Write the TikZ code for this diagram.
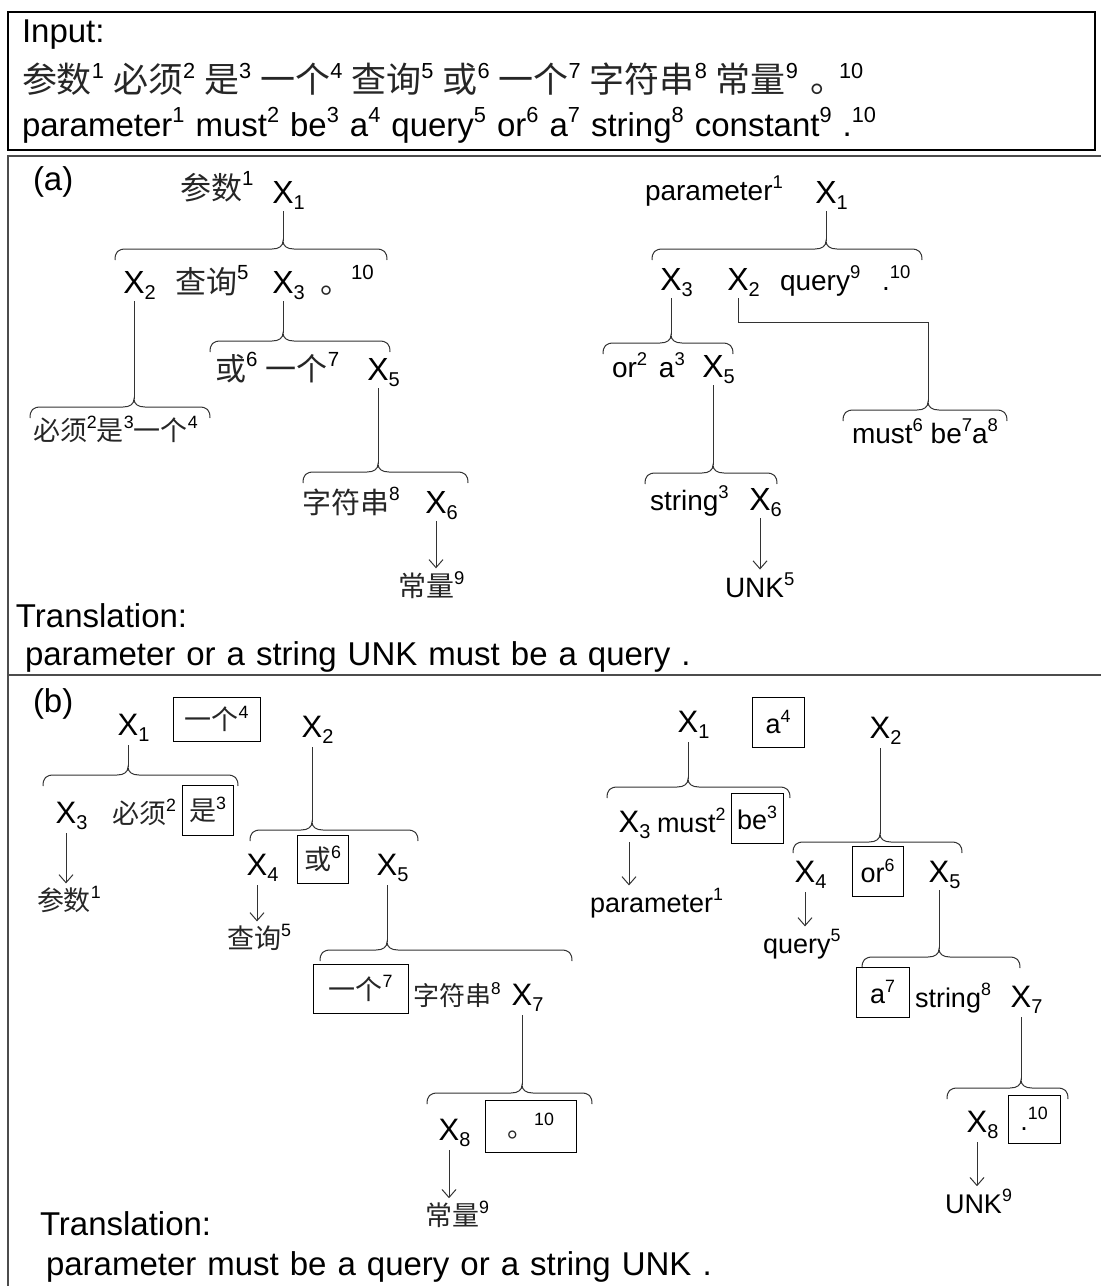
\documentclass[tikz,border=0pt]{standalone}
\usepackage{fontspec}
\setmainfont{Liberation Sans}
\newfontfamily\cjk{Noto Sans CJK SC}
\usepackage{graphicx}
\usetikzlibrary{arrows.meta}
\newcommand\supn[1]{\raisebox{0.42em}{\scalebox{0.66}{#1}}}
\newcommand\zh[1]{{\cjk\color{black!85}#1}}
\newcommand\zhb[1]{{\fontsize{35}{35}\selectfont\cjk\color{black!85}#1}}
\newcommand\fsz[1]{\fontsize{#1}{#1}\selectfont}
\newcommand\widesp{\spaceskip=11pt plus 1pt minus 1pt\relax}
\newcommand\hs{\hspace{9pt}}
\newcommand\Xn[5]{%
  \node[#1] (#2) at (#3,#4) {X};
  \node[xsub] (#2s) at ([yshift=-6pt]#2.base east) {#5};}
\newcommand\mybrace[5]{%
  \draw[brc] (#2,#5+11) .. controls (#2,#5+3) and (#2+3,#5) .. (#2+11,#5)
    -- (#4-11,#5) .. controls (#4-4,#5) and (#4,#5-3) .. (#4,#5-8)
    .. controls (#4,#5-3) and (#4+4,#5) .. (#4+11,#5)
    -- (#3-11,#5) .. controls (#3-3,#5) and (#3,#5+3) .. (#3,#5+11);
  \coordinate (#1) at (#4,#5-8);}
\tikzset{
  every node/.style={inner sep=0pt, outer sep=0pt},
  txt/.style={anchor=base west, font=\fsz{33}\widesp},
  xa/.style={anchor=base, font=\fsz{32}},
  xb/.style={anchor=base, font=\fsz{31}},
  xsub/.style={anchor=base west, font=\fsz{20}},
  wd/.style={anchor=base west, font=\fsz{28}},
  wdb/.style={anchor=base west, font=\fsz{27}},
  bx/.style={draw, line width=1pt, anchor=center, font=\fsz{27}},
  tree/.style={line width=1pt, draw=black!80},
  brc/.style={line width=1pt, draw=black!80},
  arr/.style={line width=1pt, draw=black!80, -{Straight Barb[length=8pt,width=14pt]}},
  frame/.style={line width=2pt, draw=black!70},
  frame1/.style={line width=1.5pt, draw=black},
}
\begin{document}
\begin{tikzpicture}[x=1pt,y=-1pt]
\useasboundingbox (0,0) rectangle (1101,1286);
\clip (0,0) rectangle (1101,1286);
% frames
\draw[frame1] (8,12) rectangle (1095,150);
\draw[frame] (1110,156) -- (8,156) -- (8,1300);
\draw[frame] (8,675) -- (1110,675);
% input
\node[txt] (inp) at (22,42) {Input:};
\node[txt] (inzh) at (22,92) {\zhb{参数}\supn{1}\hs\zhb{必须}\supn{2}\hs\zhb{是}\supn{3}\hs\zhb{一个}\supn{4}\hs\zhb{查询}\supn{5}\hs\zhb{或}\supn{6}\hs\zhb{一个}\supn{7}\hs\zhb{字符串}\supn{8}\hs\zhb{常量}\supn{9}\hspace{12pt}\zhb{。}\hspace{-6pt}\supn{10}};
\node[txt] (inen) at (22,136) {parameter\supn{1} must\supn{2} be\supn{3} a\supn{4} query\supn{5} or\supn{6} a\supn{7} string\supn{8} constant\supn{9} .\supn{10}};
% (a) left
\node[txt] (alab) at (33,190) {(a)};
\node[wd, font=\fsz{31}] (aw1) at (180,199) {\zh{参数}\supn{1}};
\Xn{xa}{a1}{283}{203}{1}
\mybrace{ta1}{115}{387}{283}{249}
\draw[tree] ([yshift=-8pt]a1.south) -- (ta1);
\Xn{xa}{a2}{134}{293}{2}
\node[wd, font=\fsz{31}] (aw2) at (175,293) {\zh{查询}\supn{5}};
\Xn{xa}{a3}{283}{293}{3}
\node[wd, font=\fsz{31}] (aw3) at (320,293) {\zh{。}\supn{10}};
\mybrace{ta2}{30}{210}{134}{407}
\draw[tree] ([yshift=-8pt]a2.south) -- (ta2);
\mybrace{ta3}{210}{390}{283}{341}
\draw[tree] ([yshift=-8pt]a3.south) -- (ta3);
\node[wd, font=\fsz{27}] (aw4) at (33,440) {\zh{必须}\supn{2}\zh{是}\supn{3}\zh{一个}\supn{4}};
\node[wd, font=\fsz{31}] (aw5) at (215,380) {\zh{或}\supn{6} \zh{一个}\supn{7}};
\Xn{xa}{a5}{378}{380}{5}
\mybrace{ta5}{303}{468}{378}{472}
\draw[tree] ([yshift=-8pt]a5.south) -- (ta5);
\node[wd, font=\fsz{29}] (aw6) at (302,513) {\zh{字符串}\supn{8}};
\Xn{xa}{a6}{436}{513}{6}
\node[wd] (aw7) at (398,596) {\zh{常量}\supn{9}};
\draw[arr] ([yshift=-8pt]a6.south) -- ([yshift=3pt]a6.south |- aw7.north);
\node[txt] (atr) at (16,627) {Translation:};
\node[txt] (atx) at (25,665) {parameter or a string UNK must be a query .};
% (a) right
\node[wd] (rw1) at (645,200) {parameter\supn{1}};
\Xn{xa}{r1}{826}{203}{1}
\mybrace{tr1}{652}{922}{826}{249}
\draw[tree] ([yshift=-8pt]r1.south) -- (tr1);
\Xn{xa}{r3}{671}{290}{3}
\Xn{xa}{r2}{738}{290}{2}
\node[wd] (rw2) at (780,290) {query\supn{9}};
\node[wd] (rw3) at (882,290) {.\supn{10}};
\mybrace{tr3}{603}{733}{671}{343}
\draw[tree] ([yshift=-8pt]r3.south) -- (tr3);
\mybrace{tr2}{843}{1007}{928}{410}
\draw[tree] ([yshift=-8pt]r2.south) -- (r2.south |- 0,322) -| (tr2);
\node[wd] (rw4) at (612,377) {or\supn{2}\hspace{4pt} a\supn{3}};
\Xn{xa}{r5}{713}{377}{5}
\mybrace{tr5}{645}{777}{713}{473}
\draw[tree] ([yshift=-8pt]r5.south) -- (tr5);
\node[wd] (rw5) at (852,443) {must\supn{6} be\supn{7}a\supn{8}};
\node[wd] (rw6) at (650,510) {string\supn{3}};
\Xn{xa}{r6}{760}{510}{6}
\node[wd] (rw7) at (725,597) {UNK\supn{5}};
\draw[arr] ([yshift=-8pt]r6.south) -- ([yshift=3pt]r6.south |- rw7.north);
% (b) left
\node[txt] (blab) at (33,712) {(b)};
\Xn{xb}{b1}{128}{735}{1}
\node[bx, minimum width=87, minimum height=44] (bb1) at (216.5,719) {\zh{一个}\supn{4}};
\Xn{xb}{b2}{312}{737}{2}
\mybrace{tb1}{43}{238}{128}{775}
\draw[tree] ([yshift=-10pt]b1.south) -- (tb1);
\Xn{xb}{b3}{66}{823}{3}
\node[wdb] (bw1) at (112,823) {\zh{必须}\supn{2}};
\node[bx, minimum width=51, minimum height=50] (bb2) at (207.5,810) {\zh{是}\supn{3}};
\node[wdb] (bw2) at (37,910) {\zh{参数}\supn{1}};
\draw[arr] ([yshift=-10pt]b3.south) -- ([yshift=3pt]b3.south |- bw2.north);
\mybrace{tb2}{250}{418}{312}{830}
\draw[tree] ([yshift=-10pt]b2.south) -- (tb2);
\Xn{xb}{b4}{257}{875}{4}
\node[bx, minimum width=51, minimum height=48] (bb3) at (322.5,859) {\zh{或}\supn{6}};
\Xn{xb}{b5}{387}{875}{5}
\node[wdb] (bw3) at (227,948) {\zh{查询}\supn{5}};
\draw[arr] ([yshift=-10pt]b4.south) -- ([yshift=3pt]b4.south |- bw3.north);
\mybrace{tb5}{320}{572}{387}{950}
\draw[tree] ([yshift=-10pt]b5.south) -- (tb5);
\node[bx, minimum width=95, minimum height=49] (bb4) at (360.5,988.5) {\zh{一个}\supn{7}};
\node[wdb, font=\fsz{26}] (bw4) at (413,1005) {\zh{字符串}\supn{8}};
\Xn{xb}{b7}{522}{1005}{7}
\mybrace{tb7}{427}{592}{522}{1093}
\draw[tree] ([yshift=-10pt]b7.south) -- (tb7);
\Xn{xb}{b8}{449}{1140}{8}
\node[bx, minimum width=91, minimum height=52] (bb5) at (530.5,1126) {\zh{。}\supn{10}};
\node[wdb] (bw5) at (425,1225) {\zh{常量}\supn{9}};
\draw[arr] ([yshift=-10pt]b8.south) -- ([yshift=3pt]b8.south |- bw5.north);
\node[txt] (btr) at (40,1235) {Translation:};
\node[txt] (btx) at (46,1275) {parameter must be a query or a string UNK .};
% (b) right
\Xn{xb}{c1}{688}{732}{1}
\node[bx, minimum width=52, minimum height=50] (cb1) at (778,722) {a\supn{4}};
\Xn{xb}{c2}{880}{738}{2}
\mybrace{tc1}{607}{790}{688}{787}
\draw[tree] ([yshift=-10pt]c1.south) -- (tc1);
\Xn{xb}{c3}{629}{832}{3}
\node[wdb] (cw1) at (657,832) {must\supn{2}};
\node[bx, minimum width=52, minimum height=50] (cb2) at (757,818) {be\supn{3}};
\node[wdb] (cw2) at (590,912) {parameter\supn{1}};
\draw[arr] ([yshift=-10pt]c3.south) -- ([yshift=3pt]c3.south |- cw2.north);
\mybrace{tc2}{793}{962}{880}{842}
\draw[tree] ([yshift=-10pt]c2.south) -- (tc2);
\Xn{xb}{c4}{805}{882}{4}
\node[bx, minimum width=51, minimum height=50] (cb3) at (877.5,871) {or\supn{6}};
\Xn{xb}{c5}{939}{882}{5}
\node[wdb] (cw3) at (763,953) {query\supn{5}};
\draw[arr] ([yshift=-10pt]c4.south) -- ([yshift=3pt]c4.south |- cw3.north);
\mybrace{tc5}{862}{1020}{939}{957}
\draw[tree] ([yshift=-8pt]c5.south) -- (tc5);
\node[bx, minimum width=53, minimum height=50] (cb4) at (882.5,992) {a\supn{7}};
\node[wdb] (cw4) at (915,1007) {string\supn{8}};
\Xn{xb}{c7}{1021}{1007}{7}
\mybrace{tc7}{947}{1068}{1021}{1088}
\draw[tree] ([yshift=-10pt]c7.south) -- (tc7);
\Xn{xb}{c8}{977}{1132}{8}
\node[bx, minimum width=52, minimum height=48] (cb5) at (1034,1119) {.\supn{10}};
\node[wdb] (cw5) at (945,1213) {UNK\supn{9}};
\draw[arr] ([yshift=-10pt]c8.south) -- ([yshift=3pt]c8.south |- cw5.north);
\end{tikzpicture}
\end{document}
